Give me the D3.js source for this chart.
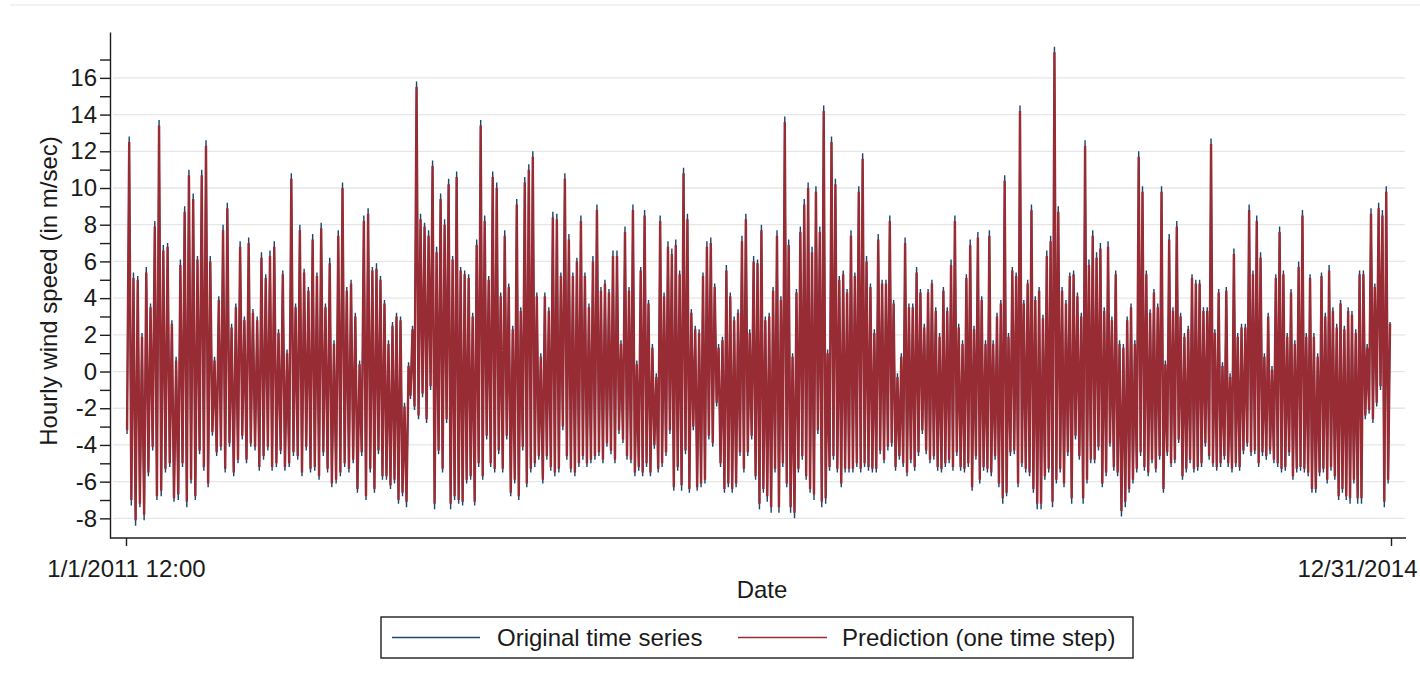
<!DOCTYPE html>
<html>
<head>
<meta charset="utf-8">
<script src="https://cdn.jsdelivr.net/npm/d3@7"></script>
<style>
body { margin: 0; background: #fff; }
svg { display: block; font-family: "Liberation Sans", Arial, sans-serif; }
</style>
</head>
<body>
<script>
var width = 1420, height = 685

// readings are taken in 5 stretches of the time line; each stretch starts at one of these dates
var chunkDates = ["2011-01-01T12:00", "2011-10-14T00:00", "2012-08-05T00:00", "2013-05-24T00:00", "2014-03-16T00:00", "2014-12-31T00:00"]

// original time series: local highs and lows, one pair per reading
var obsHighs = [
  [12.8,5.4,5.2,2.1,5.7,3.7,8.2,13.7,6.9,7.0,2.8,0.8,6.1,9.0,11.0,9.7,6.3,11.0,12.6,6.3,0.8,4.1,8.0,9.2,2.6,3.7,7.1,3.0,7.3,3.4,3.0,6.5,5.3,6.6,7.1,2.3,5.5,1.2,10.8,3.7,8.0,5.6,4.6,7.5,5.4,8.1,3.7,6.2,1.7,7.7,10.3,4.6,5.0,3.2,0.6,8.5,8.9,5.7],
  [5.9,5.2,3.9,1.7,2.7,3.2,3.0,-1.7,0.5,2.5,15.8,8.6,8.1,7.7,11.5,6.8,9.7,8.3,10.5,6.3,10.9,5.7,5.5,5.3,3.2,7.2,13.7,8.5,5.2,10.9,10.3,4.3,7.7,4.8,2.5,9.4,3.5,10.6,11.3,12.0,4.3,1.0,4.3,3.5,8.7,8.6,5.4,10.8,7.5,5.4,6.2,8.5,5.4,3.7,6.3,9.1,4.6,5.0,4.5,6.6,6.6,1.7,7.9,4.6],
  [9.1,0.6,5.7,8.8,3.9,1.5,-0.1,8.5,4.3,7.1,6.7,7.2,5.5,11.1,8.6,3.4,2.5,2.3,5.4,7.1,7.3,4.8,1.5,1.9,5.8,4.3,3.0,3.4,7.4,8.6,2.3,6.3,6.1,8.0,3.0,3.2,4.6,7.7,4.1,13.9,7.2,1.0,4.5,7.9,9.4,10.3,6.8,10.1,7.9,14.5,1.2,12.8,10.5,5.2,5.5,4.5,7.7,5.4,10.1,11.9,6.3,4.8,2.3,7.5,5.0],
  [5.0,8.5,3.9,-0.1,1.0,7.3,3.7,3.7,5.7,4.5,2.6,4.5,5.0,3.5,2.1,4.6,3.5,6.1,8.5,2.6,1.7,5.3,7.2,2.5,7.6,4.1,1.7,7.7,1.7,3.2,3.9,10.7,2.1,5.7,5.4,14.5,3.9,5.0,9.1,4.1,4.6,3.1,6.6,7.4,17.7,9.0,4.6,3.9,5.4,5.5,4.3,3.2,12.6,6.1,7.7,6.5,7.0,3.5,7.1,3.0,5.5,1.7,1.5,3.0,3.7,1.7,12.0],
  [10.1,5.5,3.4,4.5,3.7,10.1,0.6,7.5,3.5,8.2,3.2,2.1,2.5,5.3,5.0,5.0,3.5,3.5,12.7,2.3,4.5,0.5,4.6,-0.1,6.7,2.1,2.6,2.6,9.1,5.5,8.5,6.5,1.0,3.2,0.3,5.3,7.9,5.5,2.1,4.5,1.7,6.0,8.8,2.1,5.3,2.1,1.0,5.4,3.2,5.8,3.5,2.6,3.9,2.5,3.5,3.3,2.3,5.5,5.5,1.5,8.9,4.8,9.2,8.8,10.1,2.7]
]
var obsLows = [
  [-3.4,-7.3,-8.4,-7.4,-8.1,-5.7,-4.3,-7.0,-6.8,-5.5,-5.2,-7.1,-7.0,-5.2,-7.4,-6.1,-7.0,-4.5,-5.4,-6.3,-3.5,-4.6,-4.3,-5.5,-4.1,-5.7,-5.0,-3.7,-5.0,-4.1,-4.3,-5.4,-4.8,-4.3,-5.4,-5.2,-4.5,-5.4,-5.2,-4.6,-4.8,-5.7,-4.3,-5.5,-5.4,-5.9,-4.6,-5.5,-6.3,-6.1,-5.7,-5.2,-5.5,-5.0,-6.6,-4.6,-7.0,-5.5],
  [-6.6,-4.5,-5.9,-5.9,-6.4,-6.1,-7.2,-6.8,-7.4,-1.5,-2.1,-2.6,-1.4,-2.8,-1.0,-7.5,-4.5,-5.5,-2.8,-7.5,-7.0,-7.2,-7.3,-6.1,-5.9,-7.3,-5.2,-5.9,-3.7,-5.2,-5.5,-4.5,-5.5,-3.7,-6.8,-6.1,-7.0,-4.3,-6.3,-5.5,-5.2,-4.8,-6.1,-4.8,-5.4,-5.7,-5.5,-3.2,-4.8,-5.5,-5.7,-5.2,-4.8,-5.2,-5.0,-4.8,-4.6,-5.0,-4.1,-4.5,-5.0,-3.4,-3.9,-4.8],
  [-5.0,-5.7,-5.4,-5.7,-5.2,-5.7,-4.2,-5.5,-5.2,-4.6,-3.4,-6.5,-5.4,-6.5,-4.5,-6.6,-3.2,-6.5,-6.3,-6.1,-3.7,-4.1,-1.9,-5.2,-6.6,-6.3,-6.6,-6.3,-4.6,-5.5,-4.6,-3.7,-5.9,-7.5,-6.6,-7.1,-7.7,-5.5,-7.7,-5.2,-6.3,-7.7,-8.0,-5.5,-4.8,-5.9,-6.6,-7.0,-3.4,-7.4,-7.2,-5.4,-4.8,-5.5,-6.3,-5.5,-5.5,-5.5,-5.2,-5.5,-5.2,-5.4,-5.5,-5.5,-4.5],
  [-5.0,-4.3,-4.1,-5.4,-4.8,-5.2,-5.7,-5.0,-5.4,-4.6,-3.4,-4.5,-5.0,-4.8,-5.4,-5.5,-5.2,-5.0,-5.4,-4.6,-5.4,-5.5,-5.2,-6.5,-4.8,-6.1,-5.4,-5.5,-5.7,-4.8,-6.3,-7.2,-6.8,-4.6,-4.5,-6.3,-5.2,-5.5,-5.7,-6.6,-7.5,-7.5,-5.9,-5.5,-7.4,-6.1,-5.5,-6.3,-4.6,-7.2,-3.7,-4.8,-7.2,-6.1,-5.0,-5.0,-4.3,-6.3,-5.7,-4.1,-5.4,-5.7,-7.9,-7.4,-6.6,-6.1,-5.5],
  [-4.6,-5.4,-5.7,-5.0,-5.5,-4.8,-6.6,-4.6,-5.2,-5.0,-3.9,-5.9,-5.5,-5.0,-5.5,-5.4,-5.2,-4.1,-4.8,-5.2,-5.4,-5.2,-4.8,-5.2,-5.5,-5.2,-5.4,-4.5,-4.1,-4.6,-4.5,-5.2,-4.6,-4.8,-4.5,-5.0,-5.2,-5.5,-5.4,-4.6,-5.9,-5.5,-5.4,-5.5,-5.7,-6.6,-6.6,-5.7,-5.5,-6.1,-5.4,-5.9,-7.0,-6.6,-7.0,-7.2,-6.1,-7.2,-7.2,-2.6,-2.3,-2.8,-1.9,-1.0,-7.4,-6.1]
]

// one-step prediction: same readings, the red tips stop a little short of the dark ones
var predHighs = [
  [12.5,5.1,5.0,1.9,5.4,3.5,7.9,13.4,6.6,6.8,2.6,0.6,5.8,8.7,10.7,9.4,6.1,10.7,12.3,6.0,0.6,3.9,7.7,8.9,2.4,3.5,6.8,2.8,7.0,3.2,2.8,6.2,5.1,6.3,6.8,2.1,5.3,1.0,10.5,3.5,7.7,5.4,4.4,7.2,5.2,7.8,3.5,5.9,1.5,7.4,10.0,4.4,4.8,3.0,0.4,8.2,8.6,5.5],
  [5.6,5.0,3.7,1.5,2.5,3.0,2.8,-1.9,0.3,2.3,15.5,8.3,7.9,7.4,11.2,6.5,9.4,8.0,10.2,6.1,10.6,5.5,5.3,5.1,3.0,6.9,13.4,8.2,5.0,10.6,10.0,4.1,7.4,4.6,2.3,9.1,3.3,10.3,11.0,11.7,4.1,0.8,4.1,3.3,8.4,8.3,5.2,10.5,7.2,5.2,6.0,8.2,5.2,3.5,6.0,8.8,4.4,4.8,4.3,6.3,6.3,1.5,7.6,4.4],
  [8.8,0.4,5.5,8.5,3.7,1.3,-0.3,8.2,4.1,6.8,6.4,6.9,5.3,10.8,8.3,3.2,2.3,2.1,5.2,6.8,7.0,4.6,1.3,1.7,5.5,4.1,2.8,3.2,7.1,8.3,2.1,6.0,5.9,7.7,2.8,3.0,4.4,7.4,3.9,13.6,6.9,0.8,4.3,7.6,9.1,10.0,6.5,9.8,7.6,14.2,1.0,12.5,10.2,5.0,5.3,4.3,7.4,5.2,9.8,11.6,6.0,4.6,2.1,7.2,4.8],
  [4.8,8.2,3.7,-0.3,0.8,7.0,3.5,3.5,5.4,4.3,2.4,4.3,4.8,3.3,1.9,4.4,3.3,5.8,8.2,2.4,1.5,5.1,6.9,2.3,7.3,3.9,1.5,7.4,1.5,3.0,3.7,10.4,1.9,5.5,5.2,14.2,3.7,4.8,8.8,3.9,4.4,2.9,6.3,7.1,17.4,8.7,4.4,3.7,5.2,5.3,4.1,3.0,12.3,5.8,7.4,6.2,6.7,3.3,6.8,2.8,5.3,1.5,1.3,2.8,3.5,1.5,11.7],
  [9.8,5.3,3.2,4.3,3.5,9.8,0.4,7.2,3.3,7.9,3.0,1.9,2.3,5.1,4.8,4.8,3.3,3.3,12.4,2.1,4.3,0.3,4.4,-0.3,6.4,1.9,2.4,2.4,8.8,5.3,8.2,6.2,0.8,3.0,0.1,5.1,7.6,5.3,1.9,4.3,1.5,5.7,8.5,1.9,5.1,1.9,0.8,5.2,3.0,5.5,3.3,2.4,3.7,2.3,3.3,3.1,2.1,5.3,5.3,1.3,8.6,4.6,8.9,8.5,9.8,2.6]
]
var predLows = [
  [-3.2,-7.0,-8.1,-7.2,-7.8,-5.5,-4.1,-6.8,-6.5,-5.3,-5.0,-6.9,-6.7,-5.0,-7.1,-5.9,-6.8,-4.3,-5.2,-6.1,-3.3,-4.4,-4.1,-5.3,-3.9,-5.5,-4.8,-3.5,-4.8,-3.9,-4.1,-5.2,-4.6,-4.1,-5.2,-5.0,-4.3,-5.2,-5.0,-4.4,-4.6,-5.5,-4.1,-5.3,-5.2,-5.7,-4.4,-5.3,-6.1,-5.9,-5.5,-5.0,-5.3,-4.8,-6.4,-4.4,-6.8,-5.3],
  [-6.4,-4.3,-5.7,-5.7,-6.2,-5.9,-7.0,-6.6,-7.1,-1.3,-1.9,-2.4,-1.2,-2.6,-0.8,-7.2,-4.3,-5.3,-2.6,-7.2,-6.8,-7.0,-7.1,-5.9,-5.7,-7.1,-5.0,-5.7,-3.5,-5.0,-5.3,-4.3,-5.3,-3.5,-6.6,-5.9,-6.8,-4.1,-6.1,-5.3,-5.0,-4.6,-5.9,-4.6,-5.2,-5.5,-5.3,-3.0,-4.6,-5.3,-5.5,-5.0,-4.6,-5.0,-4.8,-4.6,-4.4,-4.8,-3.9,-4.3,-4.8,-3.2,-3.7,-4.6],
  [-4.8,-5.5,-5.2,-5.5,-5.0,-5.5,-4.0,-5.3,-5.0,-4.4,-3.2,-6.3,-5.2,-6.2,-4.3,-6.4,-3.0,-6.3,-6.1,-5.9,-3.5,-3.9,-1.7,-5.0,-6.4,-6.1,-6.4,-6.1,-4.4,-5.3,-4.4,-3.5,-5.7,-7.2,-6.4,-6.8,-7.4,-5.3,-7.4,-5.0,-6.1,-7.4,-7.7,-5.3,-4.6,-5.7,-6.4,-6.7,-3.2,-7.1,-6.9,-5.2,-4.6,-5.3,-6.1,-5.3,-5.3,-5.3,-5.0,-5.3,-5.0,-5.2,-5.3,-5.3,-4.3],
  [-4.8,-4.1,-3.9,-5.2,-4.6,-5.0,-5.5,-4.8,-5.2,-4.4,-3.2,-4.3,-4.8,-4.6,-5.2,-5.3,-5.0,-4.8,-5.2,-4.4,-5.2,-5.3,-5.0,-6.3,-4.6,-5.9,-5.2,-5.3,-5.5,-4.6,-6.1,-6.9,-6.6,-4.4,-4.3,-6.1,-5.0,-5.3,-5.5,-6.4,-7.2,-7.2,-5.7,-5.3,-7.1,-5.9,-5.3,-6.1,-4.4,-6.9,-3.5,-4.6,-6.9,-5.9,-4.8,-4.8,-4.1,-6.1,-5.5,-3.9,-5.2,-5.5,-7.6,-7.1,-6.4,-5.9,-5.3],
  [-4.4,-5.2,-5.5,-4.8,-5.3,-4.6,-6.4,-4.4,-5.0,-4.8,-3.7,-5.7,-5.3,-4.8,-5.3,-5.2,-5.0,-3.9,-4.6,-5.0,-5.2,-5.0,-4.6,-5.0,-5.3,-5.0,-5.2,-4.3,-3.9,-4.4,-4.3,-5.0,-4.4,-4.6,-4.3,-4.8,-5.0,-5.3,-5.2,-4.4,-5.7,-5.3,-5.2,-5.3,-5.5,-6.4,-6.4,-5.5,-5.3,-5.9,-5.2,-5.7,-6.8,-6.4,-6.8,-6.9,-5.9,-6.9,-6.9,-2.4,-2.1,-2.6,-1.7,-0.8,-7.1,-5.9]
]

var yTicks = d3.range(-8, 18)          // a tick at every whole m/sec, labels on the even ones
var gridValues = d3.range(-8, 17, 2)
var xTickDates = ["2011-01-01T12:00", "2014-12-31T00:00"]
var xTickLabels = ["1/1/2011 12:00", "12/31/2014"]
var seriesNames = ["Original time series", "Prediction (one time step)"]
var seriesColors = ["#1a476f", "#972c35"]
var seriesWidths = [1.4, 2.4]

var parse = d3.isoParse
var dates = chunkDates.map(parse)

var svg = d3.select("body").append("svg")
    .attr("width", width)
    .attr("height", height)

var x = d3.scaleTime()
    .domain([parse(xTickDates[0]), parse(xTickDates[1])])
    .range([126, 1391])
var y = d3.scaleLinear()
    .domain([-9.07, 18.5])
    .range([538, 32])

// turn the high/low readings into one zig-zag line through time
function buildSeries(highs, lows) {
  var pts = []
  highs.forEach(function(h, k) {
    var d0 = +dates[k], d1 = +dates[k + 1], n = h.length
    h.forEach(function(v, i) {
      pts.push({date: new Date(d0 + (i + 0.25) / n * (d1 - d0)), value: lows[k][i]})
      pts.push({date: new Date(d0 + (i + 0.75) / n * (d1 - d0)), value: v})
    })
  })
  return pts
}

var series = [buildSeries(obsHighs, obsLows), buildSeries(predHighs, predLows)]

// faint frame line at the very top of the picture
svg.append("line")
    .attr("x1", 10).attr("x2", width)
    .attr("y1", 5).attr("y2", 5)
    .attr("stroke", "#ececec").attr("stroke-width", 1.5)

//gridlines
svg.append("g").selectAll("line")
    .data(gridValues)
    .enter().append("line")
    .attr("x1", 113).attr("x2", 1405)
    .attr("y1", function(d) { return y(d) })
    .attr("y2", function(d) { return y(d) })
    .attr("stroke", "#e6e6e6")
    .attr("stroke-width", 1.3)

var line = d3.line()
    .x(function(d) { return x(d.date) })
    .y(function(d) { return y(d.value) })

svg.append("g").selectAll("path")
    .data(series)
    .enter().append("path")
    .attr("d", line)
    .attr("fill", "none")
    .attr("stroke", function(d, i) { return seriesColors[i] })
    .attr("stroke-width", function(d, i) { return seriesWidths[i] })
    .attr("stroke-linejoin", "bevel")

// y axis
var yAxis = svg.append("g")
    .attr("transform", "translate(110,0)")
    .call(d3.axisLeft(y)
      .tickValues(yTicks)
      .tickSize(10)
      .tickSizeOuter(0)
      .tickPadding(3)
      .tickFormat(function(d) { return d % 2 === 0 ? String(d) : "" }))
yAxis.selectAll("path, line").attr("stroke", "#1e1e1e").attr("stroke-width", 1.4)
yAxis.selectAll("text").attr("font-size", 24).attr("fill", "#1a1a1a")
    .attr("font-family", "Liberation Sans, Arial, sans-serif")

// x axis
var xAxis = svg.append("g")
    .attr("transform", "translate(0,538)")
    .call(d3.axisBottom(x)
      .tickValues(xTickDates.map(parse))
      .tickSize(8)
      .tickSizeOuter(0)
      .tickFormat(function(d, i) { return xTickLabels[i] }))
xAxis.select(".domain").remove()
xAxis.selectAll("line").attr("stroke", "#1e1e1e").attr("stroke-width", 1.4)
xAxis.selectAll("text")
    .attr("dy", null)
    .attr("y", 39)
    .attr("font-size", 24)
    .attr("fill", "#1a1a1a")
    .attr("font-family", "Liberation Sans, Arial, sans-serif")
// last label is pushed in so it stays inside the picture
xAxis.selectAll("text").filter(function(d, i) { return i === 1 })
    .attr("text-anchor", "end")
    .attr("x", 26)

svg.append("line")
    .attr("x1", 110).attr("x2", 1406)
    .attr("y1", 538).attr("y2", 538)
    .attr("stroke", "#1e1e1e").attr("stroke-width", 1.4)

// axis titles
svg.append("text")
    .attr("x", 762).attr("y", 598)
    .attr("text-anchor", "middle")
    .attr("font-size", 24).attr("fill", "#1a1a1a")
    .text("Date")

svg.append("text")
    .attr("transform", "translate(57,291) rotate(-90)")
    .attr("text-anchor", "middle")
    .attr("font-size", 24).attr("fill", "#1a1a1a")
    .text("Hourly wind speed (in m/sec)")

// legend
var legend = svg.append("g")
legend.append("rect")
    .attr("x", 381).attr("y", 617)
    .attr("width", 752).attr("height", 41)
    .attr("fill", "#fff")
    .attr("stroke", "#1e1e1e").attr("stroke-width", 1.4)

var legendX = [[392, 480, 497], [738, 827, 842]]
legend.selectAll("line")
    .data(seriesNames)
    .enter().append("line")
    .attr("x1", function(d, i) { return legendX[i][0] })
    .attr("x2", function(d, i) { return legendX[i][1] })
    .attr("y1", 637.5).attr("y2", 637.5)
    .attr("stroke", function(d, i) { return seriesColors[i] })
    .attr("stroke-width", 1.4)

legend.selectAll("text")
    .data(seriesNames)
    .enter().append("text")
    .attr("x", function(d, i) { return legendX[i][2] })
    .attr("y", 646)
    .attr("font-size", 24).attr("fill", "#1a1a1a")
    .text(function(d) { return d })
</script>
</body>
</html>
